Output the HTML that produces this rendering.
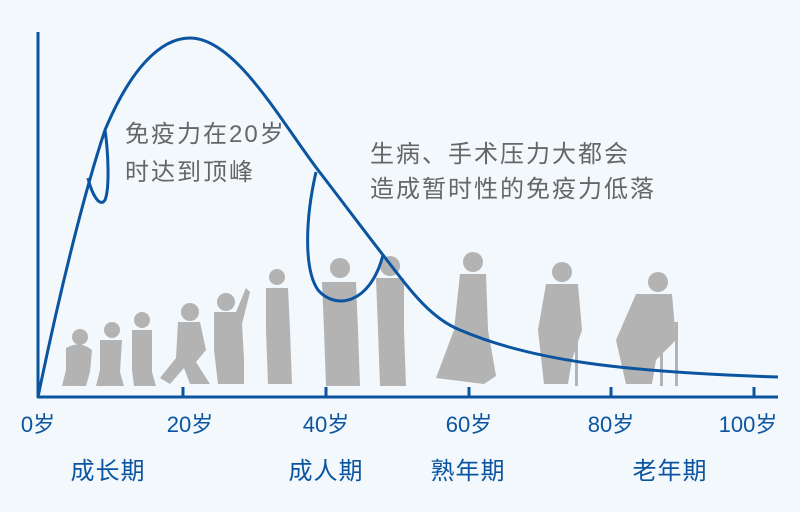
<!DOCTYPE html>
<html><head><meta charset="utf-8"><style>
html,body{margin:0;padding:0;background:#f3f8fd;}
svg{display:block}
text{font-family:"Liberation Sans","Noto Sans CJK SC",sans-serif;}
</style></head><body>
<svg width="800" height="512" viewBox="0 0 800 512" xmlns="http://www.w3.org/2000/svg">
<rect width="800" height="512" fill="#f3f8fd"/>
<g fill="#b3b3b3">
<circle cx="80" cy="337" r="8"/><path d="M66 348 Q80 340 92 350 L90 372 L86 386 L62 386 L66 370Z"/>
<circle cx="112" cy="330" r="8"/><path d="M100 340 L122 340 L120 372 L124 386 L96 386 L100 370Z"/>
<circle cx="142" cy="320" r="8"/><path d="M132 330 L152 330 L152 372 L156 386 L134 386 L132 370Z"/>
<circle cx="190" cy="312" r="9"/><path d="M178 322 L200 322 L206 350 L196 362 L210 384 L190 384 L184 368 L170 384 L160 378 L176 358Z"/>
<circle cx="226" cy="302" r="9"/><path d="M214 312 L236 312 L246 288 L250 292 L242 324 L244 360 L244 384 L218 384 L214 350Z"/>
<circle cx="277" cy="277" r="8"/><path d="M266 288 L288 288 L290 330 L292 384 L268 384 L266 330Z"/>
<circle cx="340" cy="268" r="10"/><path d="M322 282 L356 282 L358 330 L360 386 L326 386 L324 330Z"/>
<circle cx="390" cy="266" r="10"/><path d="M376 278 L404 278 L404 330 L406 386 L380 386 L378 330Z"/>
<circle cx="473" cy="262" r="10"/><path d="M460 274 L486 274 L488 330 L496 376 L484 384 L436 378 L454 330Z"/>
<circle cx="562" cy="272" r="10"/><path d="M546 284 L578 284 L582 330 L572 360 L568 384 L544 384 L538 330Z"/>
<rect x="575" y="320" width="3" height="66"/>
<circle cx="658" cy="282" r="10"/><path d="M636 294 L672 294 L676 340 L656 360 L652 384 L626 384 L616 340Z"/>
<rect x="660" y="322" width="18" height="3"/><rect x="675" y="322" width="3" height="64"/><rect x="660" y="322" width="3" height="64"/>
</g>
<g stroke="#0b55a0" stroke-width="3" fill="none" stroke-linejoin="round">
<path d="M38 32 L38 397 L778 397"/>
<path d="M183 397 V387 M326 397 V387 M469 397 V387 M611 397 V387 M754 397 V387"/>
<path d="M38 397 C60 290 85 190 105 130 C130 70 160 38 190 38 C235 38 280 120 318 170 C345 205 365 232 383 255 C410 290 430 318 460 330 C530 360 620 372 778 377"/>
<path d="M88 178 C92 195 100 208 105 200 C110 188 108 150 105 130"/>
<path d="M316 172 C305 220 304 270 318 290 C335 310 370 305 383 255"/>
</g>
<g fill="#666" font-size="24" letter-spacing="2">
<text x="125" y="142">免疫力在20岁</text>
<text x="125" y="180">时达到顶峰</text>
<text x="370" y="162">生病、手术压力大都会</text>
<text x="370" y="197">造成暂时性的免疫力低落</text>
</g>
<g fill="#0b55a0" font-size="22" text-anchor="middle">
<text x="38" y="432">0岁</text>
<text x="190" y="432">20岁</text>
<text x="326" y="432">40岁</text>
<text x="469" y="432">60岁</text>
<text x="611" y="432">80岁</text>
<text x="748" y="432">100岁</text>
</g>
<g fill="#0b55a0" font-size="24" letter-spacing="1" text-anchor="middle">
<text x="108" y="479">成长期</text>
<text x="326" y="479">成人期</text>
<text x="468" y="479">熟年期</text>
<text x="670" y="479">老年期</text>
</g>
</svg>
</body></html>
